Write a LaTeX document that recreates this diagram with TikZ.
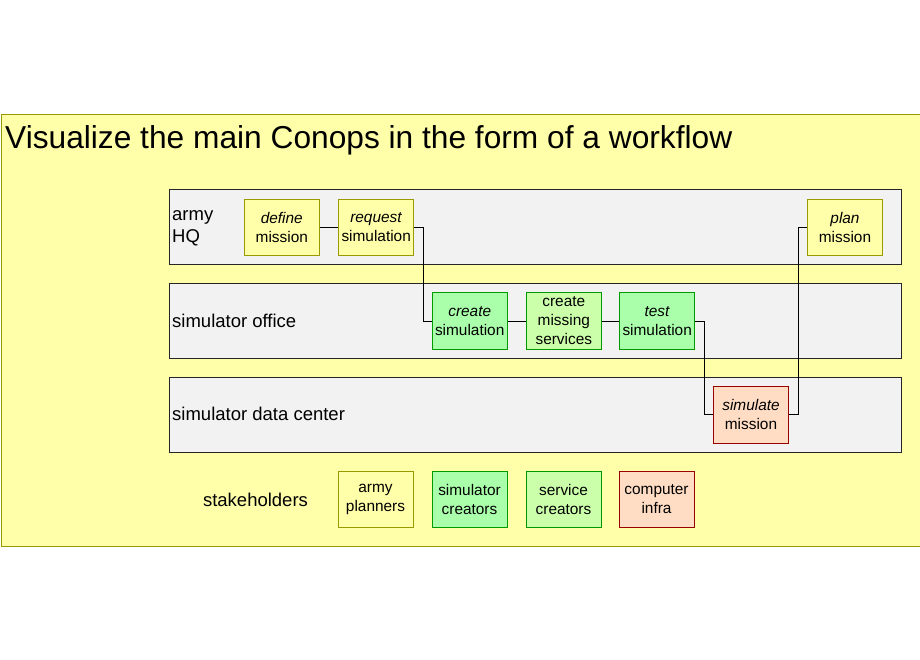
\documentclass[tikz,border=0pt]{standalone}
\usepackage{fontspec}
\setmainfont{Liberation Sans}
\usetikzlibrary{calc}
\definecolor{bgyellow}{HTML}{FFFFAA}
\definecolor{olive}{HTML}{999900}
\definecolor{lanegray}{HTML}{F2F2F2}
\definecolor{gfill}{HTML}{AAFFAA}
\definecolor{gdraw}{HTML}{009900}
\definecolor{lgfill}{HTML}{CCFFAA}
\definecolor{sfill}{HTML}{FFDDC4}
\definecolor{sdraw}{HTML}{990000}
\tikzset{
  box/.style={minimum width=75pt, minimum height=56pt, inner sep=0pt, align=center, line width=0.8pt,
    font=\fontsize{15.4}{19}\selectfont},
  ybox/.style={box, fill=bgyellow, draw=olive},
  gbox/.style={box, fill=gfill, draw=gdraw},
  lgbox/.style={box, fill=lgfill, draw=gdraw},
  sbox/.style={box, fill=sfill, draw=sdraw},
  lane/.style={fill=lanegray, draw=black!85, line width=0.9pt},
  lanelabel/.style={anchor=west, inner sep=0pt, align=left, font=\fontsize{18.5}{22}\selectfont},
  conn/.style={draw=black, line width=0.8pt}
}
\begin{document}
\begin{tikzpicture}[x=1pt,y=-1pt]
\useasboundingbox (0,0) rectangle (920,660);
\clip (0,0) rectangle (920,660);
\fill[white] (0,0) rectangle (920,660);
\draw[fill=bgyellow, draw=olive, line width=0.8pt] (1,114) rectangle (925,546);
\node[anchor=base west, inner sep=0pt, font=\fontsize{31.7}{36}\selectfont] (title) at (5,148.5) {Visualize the main Conops in the form of a workflow};
% lanes
\draw[lane] (169.5,189.3) rectangle (901.5,264.3);
\draw[lane] (169.5,283.3) rectangle (901.5,358.3);
\draw[lane] (169.5,377.3) rectangle (901.5,452.3);
\node[lanelabel] (l1) at (172,228.5) {army\\HQ};
\node[lanelabel] (l2) at (172,320.5) {simulator office};
\node[lanelabel] (l3) at (172,413.5) {simulator data center};
% workflow nodes
\node[ybox] (define) at (281.8,227.2) {\textit{define}\\mission};
\node[ybox] (request) at (376.2,227.2) {\textit{request}\\simulation};
\node[ybox] (plan) at (845,227.3) {\textit{plan}\\mission};
\node[gbox, minimum height=57pt] (create) at (469.7,321) {\textit{create}\\simulation};
\node[lgbox, minimum height=57pt] (missing) at (563.8,321) {create\\missing\\services};
\node[gbox, minimum height=57pt] (test) at (657.2,321) {\textit{test}\\simulation};
\node[sbox, minimum height=57pt] (simulate) at (751,414.7) {\textit{simulate}\\mission};
% connectors
\draw[conn] (define.east) -- (request.west);
\draw[conn] (request.east) -| ($(request.east)!.5!(create.west)$) |- (create.west);
\draw[conn] (create.east) -- (missing.west);
\draw[conn] (missing.east) -- (test.west);
\draw[conn] (test.east) -| ($(test.east)!.5!(simulate.west)$) |- (simulate.west);
\draw[conn] (simulate.east) -| ($(simulate.east)!.5!(plan.west)$) |- (plan.west);
% stakeholders
\node[lanelabel, anchor=center] (stake) at (255.5,499.5) {stakeholders};
\node[ybox] (planners) at (375.5,499) {army\\planners};
\node[gbox] (simcreators) at (469.5,499) {simulator\\creators};
\node[lgbox] (servcreators) at (563.5,499) {service\\creators};
\node[sbox] (infra) at (656.5,499) {computer\\infra};
\end{tikzpicture}
\end{document}
